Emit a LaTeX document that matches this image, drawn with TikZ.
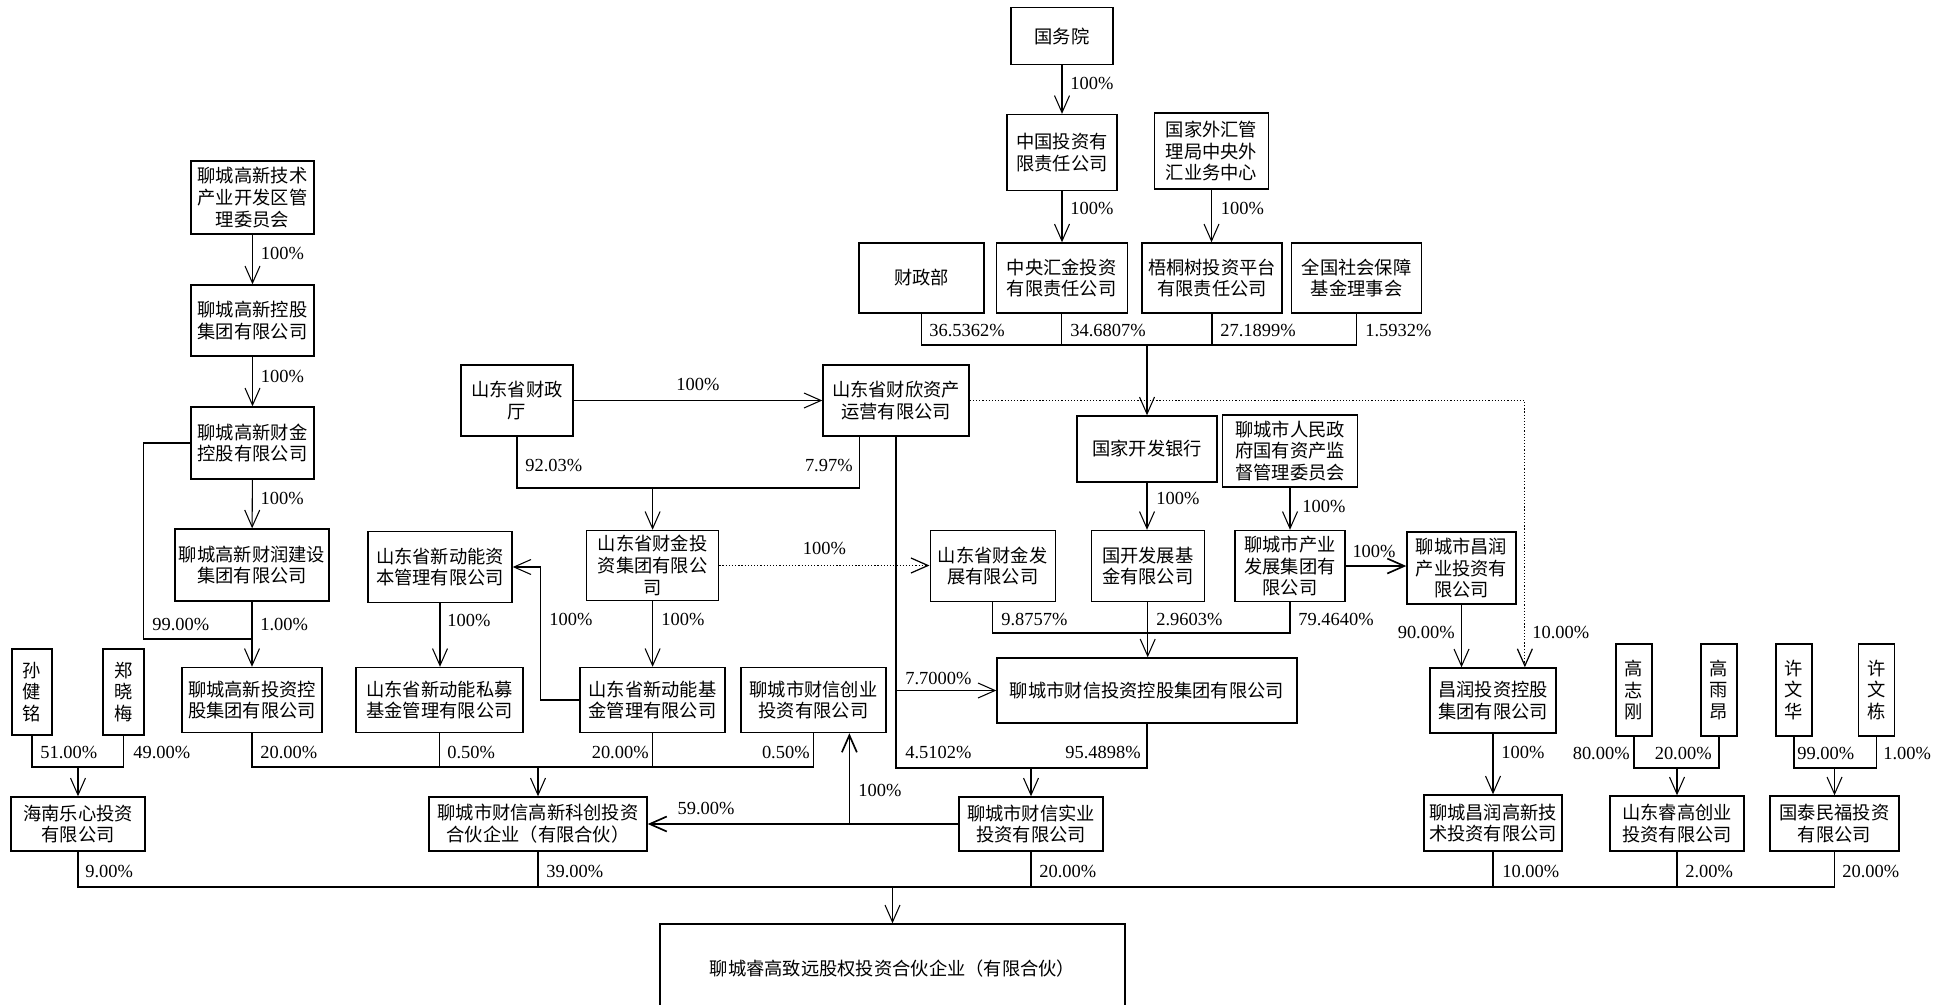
\documentclass[tikz,border=0pt]{standalone}
\usepackage{fontspec}
\setmainfont{Liberation Serif}
\newfontfamily\cjk{Noto Sans CJK SC}
\usetikzlibrary{arrows.meta,calc}
\newcommand{\boxfont}{\cjk\fontsize{10.4}{12.4}\selectfont}
\newcommand{\pctfont}{\fontsize{10.5}{12}\selectfont}
\tikzset{%
        box/.style = {draw, line width=0.8pt, inner sep=0pt, align=center, font=\boxfont},
        sz/.style 2 args = {minimum width=#1*0.02cm, minimum height=#2*0.02cm},
        ln/.style = {line width=0.6pt},
        thk/.style = {line width=0.95pt},
        dl/.style = {line width=0.7pt, dash pattern=on 0.7pt off 1.1pt},
        pct/.style = {font=\pctfont, inner sep=0pt},
        >={Straight Barb[length=3.4mm,width=3mm]}
}

\begin{document}
\begin{tikzpicture}[x=0.02cm, y=-0.02cm]
            \useasboundingbox (0,0) rectangle (1953,1004);
            \fill[white] (0,0) rectangle (1953,1004);
            % top: central government chain
            \node[box, sz={102}{57}] (gwy) at (1062,36) {国务院};
            \node[box, sz={110}{76}] (zt) at (1062,152.6) {中国投资有\\限责任公司};
            \node[box, sz={114}{76}] (wh) at (1211.5,151) {国家外汇管\\理局中央外\\汇业务中心};
            \node[box, sz={125}{70}] (czb) at (921.5,278) {财政部};
            \node[box, sz={131}{70}] (hj) at (1061.7,278) {中央汇金投资\\有限责任公司};
            \node[box, sz={140}{70}] (wt) at (1212,278) {梧桐树投资平台\\有限责任公司};
            \node[box, sz={130}{70}] (sb) at (1356.6,278) {全国社会保障\\基金理事会};
            \node[box, sz={140}{66}] (kh) at (1147,449) {国家开发银行};
            \node[box, sz={135}{72}] (gzw) at (1290,451) {聊城市人民政\\府国有资产监\\督管理委员会};
            % shandong province
            \node[box, sz={112}{71}] (czt) at (517,400.5) {山东省财政\\厅};
            \node[box, sz={146}{71}] (cx) at (896,400.5) {山东省财欣资产\\运营有限公司};
            \node[box, sz={132}{70}] (cjt) at (652.6,565.5) {山东省财金投\\资集团有限公\\司};
            \node[box, sz={144}{71}] (xzb) at (440,567) {山东省新动能资\\本管理有限公司};
            \node[box, sz={125}{71}] (cjf) at (992.7,566) {山东省财金发\\展有限公司};
            \node[box, sz={113}{71}] (gk) at (1147.7,566) {国开发展基\\金有限公司};
            \node[box, sz={110}{71}] (cy) at (1290,566) {聊城市产业\\发展集团有\\限公司};
            \node[box, sz={109}{72}] (crc) at (1461.5,568) {聊城市昌润\\产业投资有\\限公司};
            % left column
            \node[box, sz={123}{73}] (gwh) at (252.5,197.5) {聊城高新技术\\产业开发区管\\理委员会};
            \node[box, sz={123}{71}] (gkg) at (252.5,320.5) {聊城高新控股\\集团有限公司};
            \node[box, sz={123}{72}] (gcj) at (252.5,443) {聊城高新财金\\控股有限公司};
            \node[box, sz={154}{72}] (gcr) at (252,565) {聊城高新财润建设\\集团有限公司};
            \node[box, sz={140}{65}] (gtk) at (252,700) {聊城高新投资控\\股集团有限公司};
            \node[box, sz={167}{65}] (xsm) at (439.5,700) {山东省新动能私募\\基金管理有限公司};
            \node[box, sz={145}{65}] (xjj) at (652.5,700) {山东省新动能基\\金管理有限公司};
            \node[box, sz={145}{65}] (cxc) at (813.5,700) {聊城市财信创业\\投资有限公司};
            \node[box, sz={300}{65}] (cxk) at (1147,690.5) {聊城市财信投资控股集团有限公司};
            \node[box, sz={126}{65}] (crk) at (1493,700.5) {昌润投资控股\\集团有限公司};
            % natural persons
            \node[box, sz={40}{86}] (sjm) at (32,692) {孙\\健\\铭};
            \node[box, sz={41}{86}] (zxm) at (123.5,692) {郑\\晓\\梅};
            \node[box, sz={36}{92}] (gzg) at (1634,690) {高\\志\\刚};
            \node[box, sz={36}{92}] (gya) at (1719,690) {高\\雨\\昂};
            \node[box, sz={36}{92}] (xwh) at (1794,690) {许\\文\\华};
            \node[box, sz={36}{92}] (xwd) at (1876.5,690) {许\\文\\栋};
            % partners
            \node[box, sz={134}{54}] (hn) at (78,824) {海南乐心投资\\有限公司};
            \node[box, sz={218}{54}] (kc) at (538,824) {聊城市财信高新科创投资\\合伙企业（有限合伙）};
            \node[box, sz={144}{54}] (sy) at (1031,824) {聊城市财信实业\\投资有限公司};
            \node[box, sz={138}{56}] (crg) at (1493,823) {聊城昌润高新技\\术投资有限公司};
            \node[box, sz={134}{55}] (rg) at (1677,823.5) {山东睿高创业\\投资有限公司};
            \node[box, sz={129}{55}] (gt) at (1834.5,823.5) {国泰民福投资\\有限公司};
            \node[box, sz={465}{90}] (mb) at (892.5,969) {聊城睿高致远股权投资合伙企业（有限合伙）};

            % join points
            \coordinate (jk) at (kh.north |- 0,345);
            \coordinate (jc) at (cjt.north |- 0,488);
            \coordinate (js) at (sy.north |- 0,768);
            \coordinate (jg) at (gtk.north |- 0,639);
            \coordinate (jkc) at (kc.north |- 0,767);
            \coordinate (jx) at (cxk.north |- 0,633);
            \coordinate (jr) at (rg.north |- 0,768);
            \coordinate (jt) at (gt.north |- 0,768);
            \coordinate (jh) at (hn.north |- 0,767);
            \coordinate (jm) at (mb.north |- 0,887);
            \coordinate (cxa) at ($(cx.south west)!0.25!(cx.south east)$);
            \coordinate (crkb) at ($(crk.north west)!0.75!(crk.north east)$);
            \coordinate (ju) at ($(cxc.south west)!0.745!(cxc.south east)$);

            % top chain
            \draw[ln,->] (gwy) -- node[pct, pos=.37, right=4.5pt] (p1) {100\%} (zt);
            \draw[ln,->] (zt.south) -- node[pct, pos=.33, right=4.5pt] (p2) {100\%} (zt.south |- hj.north);
            \draw[ln,->] (wh.south) -- node[pct, pos=.35, right=5pt] (p3) {100\%} (wh.south |- wt.north);
            \draw[ln] (czb.south) |- (sb.south |- jk) -- (sb.south);
            \draw[ln] (hj.south) -- (hj.south |- jk);
            \draw[ln] (wt.south) -- (wt.south |- jk);
            \draw[ln,->] (jk) -- (kh.north);
            \node[pct, anchor=west] (p4) at (929,330) {36.5362\%};
            \node[pct, anchor=west] (p5) at (1070,330) {34.6807\%};
            \node[pct, anchor=west] (p6) at (1220,330) {27.1899\%};
            \node[pct, anchor=west] (p7) at (1365,330) {1.5932\%};

            % shandong
            \draw[ln,->] (czt) -- node[pct, above=5.5pt] (p8) {100\%} (cx);
            \draw[ln] (czt.south) |- (cxa |- jc) -- (cxa);
            \draw[ln,->] (jc) -- (cjt.north);
            \node[pct, anchor=west] (p9) at (525,465) {92.03\%};
            \node[pct, anchor=east] (p10) at (853,465) {7.97\%};
            \draw[dl,->] (cx.east) -| (crkb);
            \node[pct, anchor=west] (p11) at (1532,632) {10.00\%};
            \draw[dl,->] (cjt.east) -- node[pct, above=6pt] (p12) {100\%} (cjt.east -| cjf.west);
            \draw[ln,->] (cjt.south) -- (cjt.south |- xjj.north);
            \node[pct, anchor=west] (p13) at (661,619) {100\%};
            \draw[ln,->] (xjj.west) -- ++(-39,0) |- (xzb.east);
            \node[pct, anchor=west] (p14) at (549,619) {100\%};
            \draw[ln,->] (xzb.south) -- (xzb.south |- xsm.north);
            \node[pct, anchor=west] (p15) at (447,620) {100\%};

            % left column
            \draw[ln,->] (gwh) -- node[pct, pos=.37, right=4.5pt] (p16) {100\%} (gkg);
            \draw[ln,->] (gkg) -- node[pct, pos=.39, right=4.5pt] (p17) {100\%} (gcj);
            \draw[ln,->] (gcj) -- node[pct, pos=.38, right=4.5pt] (p18) {100\%} (gcr);
            \draw[ln] (gcj.west) -- ++(-47,0) |- (jg);
            \draw[ln] (gcr.south) -- (jg);
            \draw[ln,->] (jg) -- (gtk.north);
            \node[pct, anchor=west] (p19) at (152,624) {99.00\%};
            \node[pct, anchor=west] (p20) at (260,624) {1.00\%};

            % kechuang partnership
            \draw[ln] (gtk.south) |- (cxc.south |- jkc) -- (cxc.south);
            \draw[ln] (xsm.south) -- (xsm.south |- jkc);
            \draw[ln] (xjj.south) -- (xjj.south |- jkc);
            \draw[ln,->] (jkc) -- (kc.north);
            \node[pct, anchor=west] (p21) at (260,752) {20.00\%};
            \node[pct, anchor=west] (p22) at (447,752) {0.50\%};
            \node[pct, anchor=east] (p23) at (649,752) {20.00\%};
            \node[pct, anchor=east] (p24) at (810,752) {0.50\%};
            \draw[thk,->] (sy.west) -- (kc.east);
            \node[pct] (p25) at (706,808) {59.00\%};
            \draw[thk,->] (ju |- sy.west) -- (ju);
            \node[pct, anchor=west] (p26) at (858,790) {100\%};

            % caixin group
            \draw[ln] (cx.south) |- (cxk.south |- js) -- (cxk.south);
            \draw[ln,->] (js) -- (sy.north);
            \draw[ln,->] (cx.south |- cxk.west) -- (cxk.west);
            \node[pct, anchor=west] (p27) at (905,678) {7.7000\%};
            \node[pct, anchor=west] (p28) at (905,752) {4.5102\%};
            \node[pct, anchor=east] (p29) at (1141,752) {95.4898\%};
            \draw[ln,->] (kh.south) -- (kh.south |- gk.north);
            \node[pct, anchor=west] (p30) at (1156,498) {100\%};
            \draw[ln,->] (gzw.south) -- (gzw.south |- cy.north);
            \node[pct, anchor=west] (p31) at (1302,506) {100\%};
            \draw[ln] (cjf.south) |- (cy.south |- jx) -- (cy.south);
            \draw[ln,->] (gk.south) -- (gk.south |- cxk.north);
            \node[pct, anchor=west] (p32) at (1001,619) {9.8757\%};
            \node[pct, anchor=west] (p33) at (1156,619) {2.9603\%};
            \node[pct, anchor=west] (p34) at (1298,619) {79.4640\%};

            % changrun
            \draw[thk,->] (cy.east) -- (cy.east -| crc.west);
            \node[pct] (p35) at (1374,551) {100\%};
            \draw[ln,->] (crc.south) -- (crc.south |- crk.north);
            \node[pct, anchor=east] (p36) at (1455,632) {90.00\%};
            \draw[ln,->] (crk.south) -- (crg.north);
            \node[pct, anchor=west] (p37) at (1501,752) {100\%};

            % persons
            \draw[ln] (gzg.south) |- (gya.south |- jr) -- (gya.south);
            \draw[ln,->] (jr) -- (rg.north);
            \node[pct, anchor=east] (p38) at (1630,753) {80.00\%};
            \node[pct, anchor=east] (p39) at (1712,753) {20.00\%};
            \draw[ln] (xwh.south) |- (xwd.south |- jt) -- (xwd.south);
            \draw[ln,->] (jt) -- (gt.north);
            \node[pct, anchor=west] (p40) at (1797,753) {99.00\%};
            \node[pct, anchor=west] (p41) at (1883,753) {1.00\%};
            \draw[ln] (sjm.south) |- (zxm.south |- jh) -- (zxm.south);
            \draw[ln,->] (jh) -- (hn.north);
            \node[pct, anchor=west] (p42) at (40,752) {51.00\%};
            \node[pct, anchor=west] (p43) at (133,752) {49.00\%};

            % bottom join
            \draw[thk] (hn.south) |- (gt.south |- jm) -- (gt.south);
            \draw[ln] (kc.south) -- (kc.south |- jm);
            \draw[ln] (sy.south) -- (sy.south |- jm);
            \draw[ln] (crg.south) -- (crg.south |- jm);
            \draw[ln] (rg.south) -- (rg.south |- jm);
            \draw[ln,->] (jm) -- (mb.north);
            \node[pct, anchor=west] (p44) at (85,871) {9.00\%};
            \node[pct, anchor=west] (p45) at (546,871) {39.00\%};
            \node[pct, anchor=west] (p46) at (1039,871) {20.00\%};
            \node[pct, anchor=west] (p47) at (1502,871) {10.00\%};
            \node[pct, anchor=west] (p48) at (1685,871) {2.00\%};
            \node[pct, anchor=west] (p49) at (1842,871) {20.00\%};
        \end{tikzpicture}
\end{document}
